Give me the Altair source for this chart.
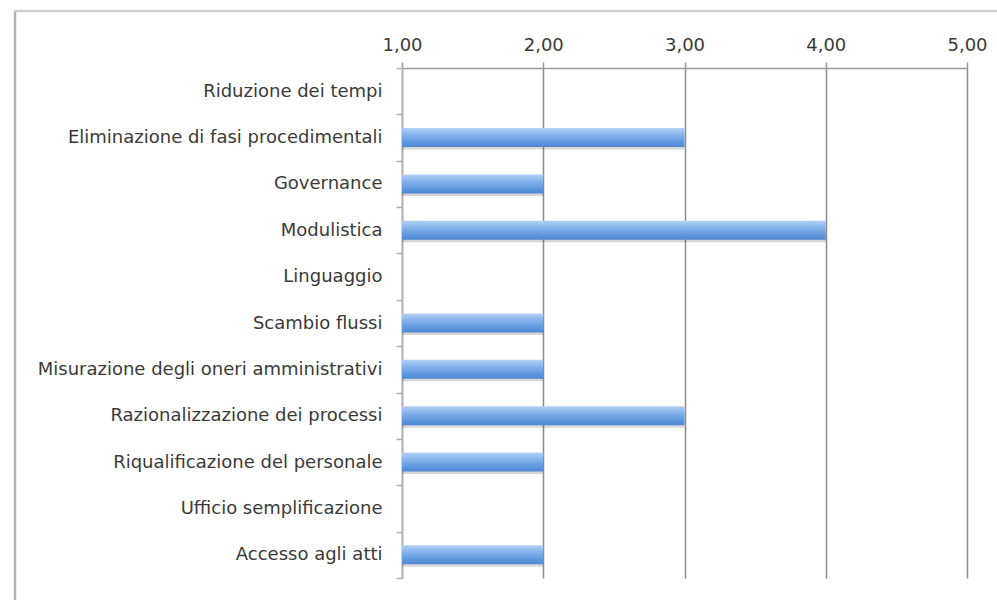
import altair as alt
import pandas as pd

# Survey scores per simplification area (scale 1-5)
categories = [
    "Riduzione dei tempi",
    "Eliminazione di fasi procedimentali",
    "Governance",
    "Modulistica",
    "Linguaggio ",
    "Scambio flussi",
    "Misurazione degli oneri amministrativi",
    "Razionalizzazione dei processi",
    "Riqualificazione del personale",
    "Ufficio semplificazione",
    "Accesso agli atti",
]
scores = [1, 3, 2, 4, 1, 2, 2, 3, 2, 1, 2]
tick_values = [1, 2, 3, 4, 5]

df = pd.DataFrame({"area": categories, "score": scores})

FONT = "DejaVu Sans"
TEXT = "#3a3a3a"
SIZE = 18

x_scale = alt.Scale(domain=[1, 5], nice=False, zero=False)
y_scale = alt.Scale(paddingInner=0, paddingOuter=0)

x_axis = alt.Axis(
    orient="top",
    values=tick_values,
    labelExpr="replace(format(datum.value, '.2f'), '.', ',')",
    grid=True,
    gridColor="#8c8c8c",
    gridWidth=1.5,
    domainColor="#9c9c9c",
    domainWidth=1.5,
    tickColor="#9c9c9c",
    tickWidth=1.5,
    tickSize=6,
    labelFont=FONT,
    labelFontSize=SIZE,
    labelColor=TEXT,
    labelPadding=8,
    labelFlush=False,
)
y_axis = alt.Axis(
    orient="left",
    tickBand="extent",
    domainColor="#b0b0b0",
    domainWidth=1.5,
    tickColor="#b0b0b0",
    tickWidth=1.5,
    tickSize=6,
    labelFont=FONT,
    labelFontSize=SIZE,
    labelColor=TEXT,
    labelPadding=14,
    labelLimit=420,
)

x_enc = alt.X("score:Q", scale=x_scale, title=None, axis=x_axis)
y_enc = alt.Y("area:N", sort=None, scale=y_scale, title=None, axis=y_axis)

base = alt.Chart(df)

# Light shadow below every bar
shadow = base.mark_bar(size=19, color="#000000", opacity=0.16, yOffset=2.5, cornerRadius=1).encode(
    x=x_enc, x2=alt.datum(1), y=y_enc
)

bar_fill = alt.Gradient(
    gradient="linear",
    x1=0, x2=0, y1=0, y2=1,
    stops=[
        alt.GradientStop(color="#b3d1f5", offset=0),
        alt.GradientStop(color="#86b3ec", offset=0.35),
        alt.GradientStop(color="#5f97de", offset=0.75),
        alt.GradientStop(color="#4f88d2", offset=1),
    ],
)

bars = base.mark_bar(size=19, color=bar_fill).encode(
    x=x_enc, x2=alt.datum(1), y=y_enc
)

frame_data = pd.DataFrame({"k": [0]})
frame_left = alt.Chart(frame_data).mark_rule(color="#b4b4b4", strokeWidth=2.5).encode(
    x=alt.value(-387), y=alt.value(-57), y2=alt.value(560)
)
frame_top = alt.Chart(frame_data).mark_rule(color="#cfcfcf", strokeWidth=2.5).encode(
    x=alt.value(-388), x2=alt.value(620), y=alt.value(-57)
)

chart = (
    alt.layer(shadow, bars, frame_left, frame_top)
    .properties(
        width=565,
        height=510,
        autosize=alt.AutoSizeParams(type="none"),
        padding={"left": 402, "top": 68, "right": 30, "bottom": 22},
        background="white",
    )
    .configure_view(stroke=None)
)

chart.save("out.html", embed_options={"renderer": "svg", "actions": False})
